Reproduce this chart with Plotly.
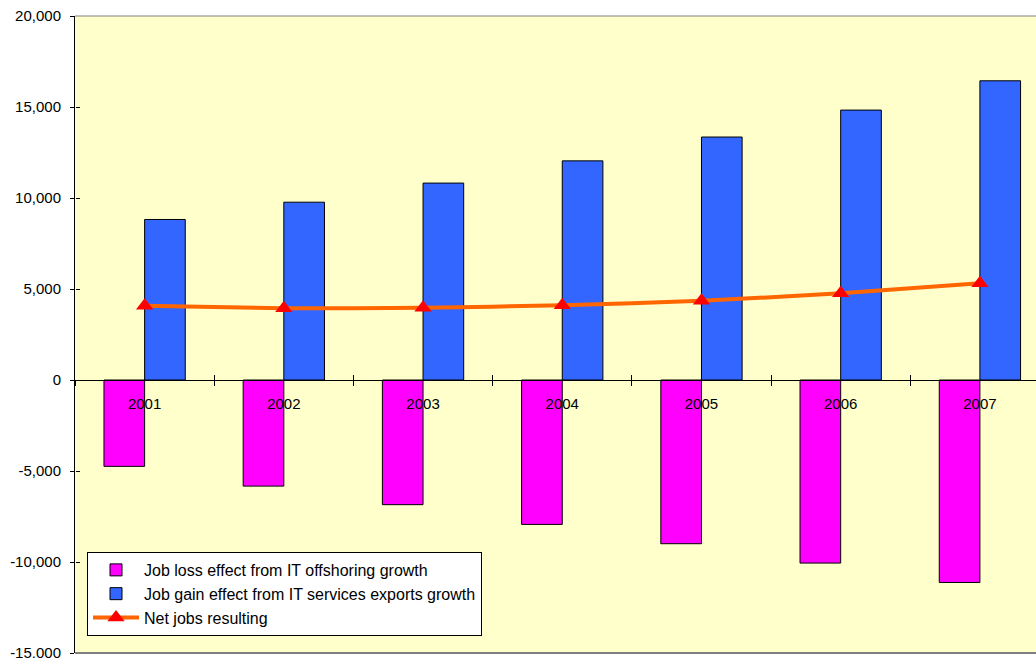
import plotly.graph_objects as go

# Job effects of IT offshoring vs. IT services exports, 2001-2007
years = ["2001", "2002", "2003", "2004", "2005", "2006", "2007"]
job_loss = [-4745, -5830, -6850, -7935, -8995, -10060, -11125]
job_gain = [8820, 9770, 10820, 12040, 13350, 14830, 16440]
net_jobs = [4075, 3940, 3970, 4105, 4355, 4770, 5315]

y_ticks = [20000, 15000, 10000, 5000, 0, -5000, -10000, -15000]
y_tick_text = ["20,000", "15,000", "10,000", "5,000", "0", "-5,000", "-10,000", "-15,000"]
y_min, y_max = -15000, 20000

FONT = "Liberation Sans, Arial, sans-serif"

fig = go.Figure()

fig.add_trace(go.Bar(
    x=years, y=job_loss, name="Job loss effect from IT offshoring growth",
    legendgroup="loss",
    marker=dict(color="#FF00FF", line=dict(color="#000000", width=1)),
))
fig.add_trace(go.Bar(
    x=years, y=job_gain, name="Job gain effect from IT services exports growth",
    legendgroup="gain",
    marker=dict(color="#3366FF", line=dict(color="#000000", width=1)),
))
fig.add_trace(go.Scatter(
    x=years, y=net_jobs, name="Net jobs resulting", mode="lines+markers",
    legendgroup="net",
    line=dict(color="#FF6600", width=4, shape="spline", smoothing=0.6),
    marker=dict(symbol="triangle-up", size=15, color="#FF0000"),
))
# invisible companion trace so the tick-only overlay axes are drawn
fig.add_trace(go.Scatter(
    x=years, y=[0] * len(years), xaxis="x2", yaxis="y2", mode="markers",
    marker=dict(opacity=0), showlegend=False, hoverinfo="skip",
))

zero_pos = (0 - y_min) / (y_max - y_min)
# the last category slot runs a little past the right edge of the page
x_range = [-0.5, 6.403]

fig.update_layout(
    width=1036, height=658,
    margin=dict(l=75, r=0, t=16, b=5, autoexpand=False),
    paper_bgcolor="#FFFFFF",
    plot_bgcolor="#FFFFCC",
    barmode="group", bargap=0.416, bargroupgap=0,
    font=dict(family=FONT, size=15, color="#000000"),
    showlegend=True,
    legend=dict(
        x=0.0125, y=0.1586, xanchor="left", yanchor="top",
        bgcolor="#FFFFFF", bordercolor="#000000", borderwidth=1,
        font=dict(family=FONT, size=16, color="#000000"),
        tracegroupgap=0, itemwidth=46,
    ),
    xaxis=dict(
        type="category", categoryarray=years, range=x_range,
        anchor="free", position=zero_pos, automargin=False,
        showline=True, linecolor="#000000", linewidth=1,
        ticks="outside", ticklen=5, tickcolor="#000000", tickson="boundaries",
        ticklabelstandoff=10,
        showgrid=False, zeroline=False,
        tickfont=dict(family=FONT, size=15, color="#000000"),
    ),
    xaxis2=dict(
        type="category", categoryarray=years, range=x_range,
        overlaying="x", anchor="free", position=zero_pos, automargin=False,
        showline=False, ticks="inside", ticklen=5, tickcolor="#000000",
        tickson="boundaries", showticklabels=False, showgrid=False, zeroline=False,
    ),
    yaxis=dict(
        range=[y_min, y_max], tickvals=y_ticks, ticktext=y_tick_text,
        automargin=False,
        showline=True, linecolor="#000000", linewidth=1,
        ticks="outside", ticklen=4, tickcolor="#000000",
        showgrid=False, zeroline=False,
        tickfont=dict(family=FONT, size=15, color="#000000"),
        ticklabelstandoff=6, ticklabeloverflow="allow",
    ),
    yaxis2=dict(
        range=[y_min, y_max], tickvals=y_ticks, overlaying="y",
        anchor="free", position=0, side="left", automargin=False,
        showline=False, ticks="inside", ticklen=4, tickcolor="#000000",
        showticklabels=False, showgrid=False, zeroline=False,
    ),
    shapes=[
        # gray top and bottom edges of the plotting area
        dict(type="line", xref="paper", yref="paper", x0=0, x1=1, y0=1, y1=1,
             line=dict(color="#808080", width=1), layer="below"),
        dict(type="line", xref="paper", yref="paper", x0=0, x1=1, y0=0, y1=0,
             line=dict(color="#808080", width=2), layer="below"),
    ],
)

fig.write_html("out.html")
